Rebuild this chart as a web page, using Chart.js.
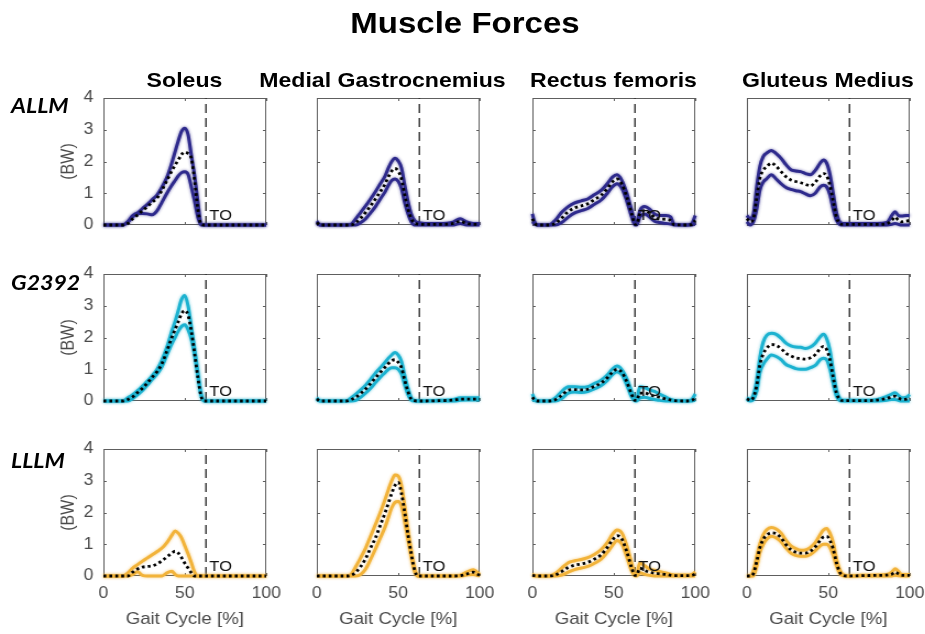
<!DOCTYPE html>
<html>
<head>
<meta charset="utf-8">
<title>Muscle Forces</title>
<script src="https://cdn.jsdelivr.net/npm/chart.js@4.4.1/dist/chart.umd.min.js"></script>
<style>
  html, body { margin: 0; padding: 0; background: #fff; overflow: hidden; }
  /* the source figure is slightly stretched sideways, so the whole sheet is too */
  #figure { position: absolute; left: 0; top: 0; width: 841px; height: 634px;
            transform: scaleX(1.1); transform-origin: 0 0;
            font-family: "Liberation Sans", Arial, sans-serif; }
  #figure canvas { position: absolute; }
  .label { position: absolute; white-space: nowrap; color: #000; }
  .main-title { font-size: 30px; font-weight: bold; line-height: 30px; text-align: center; width: 600px; }
  .col-title { font-size: 21px; font-weight: bold; line-height: 21px; text-align: center; width: 300px; }
  .row-label { font-family: Lato, "Open Sans", sans-serif; font-size: 21px; font-weight: bold;
               font-style: italic; line-height: 22px; }
</style>
</head>
<body>
<div id="figure"></div>
<script>
  // ---- data ----
  const models = ['ALLM', 'G2392', 'LLLM'];
  const muscles = ['Soleus', 'Medial Gastrocnemius', 'Rectus femoris', 'Gluteus Medius'];
  const toeOff = 63;            // % gait cycle
  const toeOffLabel = 'TO';
  const xTicks = [0, 50, 100];
  const yTicks = [0, 1, 2, 3, 4];

  // gait cycle samples (%) per muscle
  const soleusX  = [0, 12, 15, 18, 21, 24, 27, 30, 33, 36, 39, 42, 44, 46, 48, 50, 52, 54, 56, 58, 60, 62, 100];
  const gastrocX = [0, 2, 18, 21, 24, 27, 30, 33, 36, 39, 42, 44, 46, 48, 50, 52, 54, 56, 58, 60, 62, 66, 75, 84, 88, 92, 96, 100];
  const rectusX  = [0, 1, 3, 10, 14, 18, 22, 26, 30, 34, 38, 42, 46, 49, 52, 55, 58, 61, 63, 64, 66, 69, 72, 75, 78, 82, 85, 87, 95, 98, 100];
  const gluteusX = [0, 2, 4, 6, 8, 10, 12, 15, 18, 21, 24, 27, 30, 33, 36, 39, 42, 45, 47, 49, 51, 53, 55, 57, 59, 62, 70, 80, 86, 89, 91, 93, 95, 98, 100];

  // forces (BW): upper bound, mean, lower bound
  const allmSoleusUpper = [0, 0, 0.1, 0.25, 0.38, 0.52, 0.65, 0.8, 0.95, 1.2, 1.5, 1.95, 2.3, 2.65, 2.95, 3.05, 2.85, 2.2, 1.55, 0.75, 0.03, 0, 0];
  const allmSoleusMean  = [0, 0, 0.05, 0.2, 0.32, 0.45, 0.58, 0.72, 0.85, 1.1, 1.4, 1.7, 1.88, 2.05, 2.22, 2.3, 2.25, 2.1, 1.4, 0.5, 0.02, 0, 0];
  const allmSoleusLower = [0, 0, 0.1, 0.3, 0.36, 0.36, 0.35, 0.32, 0.45, 0.72, 1.0, 1.25, 1.4, 1.55, 1.65, 1.68, 1.6, 1.2, 0.75, 0.25, 0, 0, 0];
  const g2392SoleusUpper = [0, 0, 0.1, 0.2, 0.33, 0.47, 0.63, 0.8, 1.0, 1.3, 1.7, 2.2, 2.5, 2.85, 3.2, 3.32, 3.0, 2.35, 1.65, 0.9, 0.2, 0, 0];
  const g2392SoleusMean  = [0, 0, 0.05, 0.13, 0.27, 0.4, 0.57, 0.75, 0.93, 1.18, 1.58, 2.0, 2.25, 2.5, 2.75, 2.85, 2.7, 2.2, 1.5, 0.75, 0.15, 0, 0];
  const g2392SoleusLower = [0, 0, 0, 0.08, 0.2, 0.33, 0.5, 0.68, 0.85, 1.08, 1.45, 1.8, 2.0, 2.2, 2.35, 2.4, 2.25, 1.95, 1.45, 0.8, 0.2, 0, 0];
  const lllmSoleusUpper = [0, 0, 0.1, 0.25, 0.36, 0.47, 0.57, 0.67, 0.77, 0.88, 1.05, 1.28, 1.42, 1.35, 1.2, 0.95, 0.7, 0.42, 0.12, 0, 0, 0, 0];
  const lllmSoleusMean  = [0, 0, 0, 0.12, 0.22, 0.28, 0.3, 0.32, 0.38, 0.48, 0.6, 0.72, 0.78, 0.72, 0.58, 0.4, 0.25, 0.1, 0, 0, 0, 0, 0];
  const lllmSoleusLower = [0, 0, 0, 0.05, 0.13, 0.02, 0, 0, 0, 0, 0.1, 0.15, 0.05, 0, 0, 0, 0, 0, 0, 0, 0, 0, 0];

  const allmGastrocUpper = [0.12, 0, 0, 0.02, 0.2, 0.4, 0.6, 0.82, 1.05, 1.3, 1.55, 1.8, 2.0, 2.1, 2.02, 1.8, 1.25, 0.75, 0.35, 0.15, 0.08, 0.05, 0.05, 0.1, 0.2, 0.1, 0.05, 0.05];
  const allmGastrocMean  = [0.08, 0, 0, 0, 0.08, 0.22, 0.4, 0.6, 0.82, 1.05, 1.3, 1.52, 1.7, 1.78, 1.7, 1.45, 0.95, 0.5, 0.2, 0.06, 0.03, 0.02, 0.02, 0.05, 0.12, 0.05, 0.02, 0.02];
  const allmGastrocLower = [0.05, 0, 0, 0, 0, 0.08, 0.2, 0.38, 0.58, 0.82, 1.05, 1.25, 1.4, 1.45, 1.38, 1.15, 0.7, 0.35, 0.1, 0, 0, 0, 0, 0, 0.05, 0, 0, 0];
  const g2392GastrocUpper = [0.1, 0, 0, 0.1, 0.22, 0.35, 0.5, 0.68, 0.88, 1.05, 1.22, 1.35, 1.45, 1.53, 1.45, 1.25, 0.8, 0.4, 0.1, 0.02, 0, 0, 0.02, 0.05, 0.1, 0.1, 0.1, 0.1];
  const g2392GastrocMean  = [0.07, 0, 0, 0.04, 0.12, 0.24, 0.38, 0.55, 0.73, 0.9, 1.07, 1.18, 1.27, 1.3, 1.22, 1.05, 0.65, 0.3, 0.06, 0.01, 0, 0, 0.01, 0.03, 0.06, 0.06, 0.06, 0.06];
  const g2392GastrocLower = [0.05, 0, 0, 0, 0.02, 0.12, 0.25, 0.4, 0.58, 0.75, 0.9, 1.0, 1.05, 1.05, 1.0, 0.85, 0.5, 0.2, 0.03, 0, 0, 0, 0, 0, 0.02, 0.03, 0.03, 0.03];
  const lllmGastrocUpper = [0, 0, 0, 0.05, 0.3, 0.58, 0.88, 1.25, 1.62, 2.0, 2.42, 2.72, 3.0, 3.18, 3.15, 2.85, 2.2, 1.45, 0.8, 0.27, 0, 0, 0, 0, 0.02, 0.12, 0.2, 0.05];
  const lllmGastrocMean  = [0, 0, 0, 0.02, 0.12, 0.3, 0.55, 0.88, 1.2, 1.6, 2.0, 2.3, 2.6, 2.85, 2.95, 2.6, 2.0, 1.3, 0.7, 0.2, 0, 0, 0, 0, 0.01, 0.06, 0.12, 0.02];
  const lllmGastrocLower = [0, 0, 0, 0, 0, 0.05, 0.22, 0.52, 0.85, 1.2, 1.55, 1.85, 2.15, 2.32, 2.35, 2.2, 1.7, 1.15, 0.6, 0.15, 0, 0, 0, 0, 0, 0.03, 0.05, 0];

  const allmRectusUpper = [0.35, 0.15, 0, 0, 0.15, 0.4, 0.58, 0.7, 0.76, 0.82, 0.95, 1.08, 1.3, 1.5, 1.58, 1.4, 1.0, 0.45, 0.08, 0.05, 0.45, 0.58, 0.5, 0.35, 0.3, 0.3, 0.25, 0.02, 0, 0.05, 0.3];
  const allmRectusMean  = [0.2, 0.08, 0, 0, 0.05, 0.22, 0.42, 0.54, 0.6, 0.67, 0.8, 0.93, 1.15, 1.35, 1.45, 1.28, 0.88, 0.35, 0.03, 0.02, 0.35, 0.45, 0.38, 0.24, 0.19, 0.18, 0.14, 0.01, 0, 0.02, 0.15];
  const allmRectusLower = [0.1, 0.05, 0, 0, 0, 0.08, 0.25, 0.38, 0.45, 0.52, 0.65, 0.78, 1.0, 1.2, 1.3, 1.15, 0.75, 0.25, 0, 0, 0.25, 0.35, 0.25, 0.12, 0.08, 0.05, 0.03, 0, 0, 0, 0.05];
  const g2392RectusUpper = [0.22, 0.1, 0, 0, 0.1, 0.3, 0.45, 0.45, 0.43, 0.45, 0.55, 0.65, 0.82, 1.0, 1.1, 0.98, 0.7, 0.3, 0.05, 0.05, 0.45, 0.42, 0.35, 0.3, 0.22, 0.12, 0.05, 0.02, 0, 0.05, 0.22];
  const g2392RectusMean  = [0.12, 0.05, 0, 0, 0.04, 0.18, 0.34, 0.36, 0.35, 0.37, 0.46, 0.56, 0.73, 0.9, 1.0, 0.9, 0.6, 0.2, 0.02, 0.02, 0.25, 0.25, 0.2, 0.15, 0.12, 0.06, 0.03, 0.01, 0, 0.02, 0.1];
  const g2392RectusLower = [0.05, 0.02, 0, 0, 0, 0.08, 0.25, 0.28, 0.27, 0.3, 0.38, 0.48, 0.65, 0.82, 0.92, 0.82, 0.5, 0.12, 0, 0, 0.1, 0.12, 0.08, 0.05, 0.02, 0, 0, 0, 0, 0, 0.03];
  const lllmRectusUpper = [0.05, 0.03, 0, 0, 0.08, 0.25, 0.42, 0.48, 0.52, 0.58, 0.68, 0.82, 1.05, 1.3, 1.45, 1.35, 0.95, 0.4, 0.05, 0.05, 0.42, 0.32, 0.22, 0.18, 0.14, 0.1, 0.05, 0.03, 0.03, 0.05, 0.13];
  const lllmRectusMean  = [0.02, 0.01, 0, 0, 0.03, 0.14, 0.27, 0.34, 0.38, 0.43, 0.53, 0.66, 0.9, 1.12, 1.27, 1.16, 0.76, 0.25, 0.02, 0.02, 0.25, 0.17, 0.12, 0.09, 0.07, 0.05, 0.02, 0.01, 0.01, 0.02, 0.06];
  const lllmRectusLower = [0, 0, 0, 0, 0, 0.03, 0.12, 0.2, 0.25, 0.3, 0.4, 0.52, 0.75, 0.95, 1.12, 1.0, 0.6, 0.15, 0, 0, 0.1, 0.05, 0.02, 0, 0, 0, 0, 0, 0, 0, 0];

  const allmGluteusUpper = [0.3, 0.2, 0.35, 1.2, 1.85, 2.15, 2.26, 2.35, 2.25, 2.1, 1.9, 1.74, 1.7, 1.68, 1.62, 1.58, 1.72, 1.95, 2.05, 1.95, 1.6, 1.0, 0.4, 0.1, 0.05, 0.05, 0.05, 0.05, 0.08, 0.3, 0.42, 0.3, 0.28, 0.3, 0.3];
  const allmGluteusMean  = [0.2, 0.1, 0.2, 0.85, 1.48, 1.72, 1.83, 1.95, 1.85, 1.68, 1.52, 1.42, 1.37, 1.33, 1.28, 1.23, 1.35, 1.55, 1.62, 1.55, 1.25, 0.75, 0.25, 0.05, 0.02, 0.02, 0.02, 0.02, 0.04, 0.15, 0.25, 0.15, 0.1, 0.12, 0.15];
  const allmGluteusLower = [0.1, 0, 0.1, 0.5, 1.1, 1.35, 1.45, 1.58, 1.45, 1.3, 1.18, 1.12, 1.08, 1.05, 0.98, 0.92, 1.0, 1.2, 1.25, 1.2, 0.95, 0.5, 0.15, 0.02, 0, 0, 0, 0, 0, 0.02, 0.05, 0.02, 0, 0, 0];
  const g2392GluteusUpper = [0.1, 0.05, 0.2, 0.65, 1.38, 1.85, 2.06, 2.13, 2.1, 1.98, 1.82, 1.74, 1.7, 1.69, 1.65, 1.7, 1.82, 2.02, 2.1, 1.96, 1.6, 0.95, 0.35, 0.08, 0.02, 0.02, 0.02, 0.05, 0.15, 0.22, 0.26, 0.18, 0.1, 0.12, 0.2];
  const g2392GluteusMean  = [0.07, 0.02, 0.12, 0.48, 1.15, 1.48, 1.65, 1.78, 1.75, 1.65, 1.5, 1.42, 1.36, 1.34, 1.32, 1.36, 1.46, 1.65, 1.72, 1.62, 1.3, 0.75, 0.25, 0.05, 0.01, 0.01, 0.01, 0.03, 0.08, 0.13, 0.15, 0.1, 0.05, 0.06, 0.1];
  const g2392GluteusLower = [0.05, 0, 0.05, 0.3, 0.9, 1.15, 1.3, 1.45, 1.4, 1.3, 1.15, 1.08, 1.02, 1.0, 1.0, 1.05, 1.12, 1.3, 1.35, 1.3, 1.0, 0.55, 0.15, 0.02, 0, 0, 0, 0, 0.02, 0.05, 0.05, 0.02, 0, 0, 0];
  const lllmGluteusUpper = [0, 0, 0.18, 0.6, 1.02, 1.3, 1.45, 1.53, 1.48, 1.35, 1.12, 0.95, 0.86, 0.81, 0.82, 0.9, 1.05, 1.3, 1.45, 1.5, 1.35, 1.05, 0.55, 0.2, 0.05, 0, 0.02, 0.03, 0.05, 0.12, 0.23, 0.15, 0.05, 0.05, 0.05];
  const lllmGluteusMean  = [0, 0, 0.08, 0.45, 0.9, 1.15, 1.28, 1.36, 1.33, 1.2, 0.99, 0.83, 0.75, 0.72, 0.72, 0.78, 0.92, 1.12, 1.23, 1.25, 1.12, 0.85, 0.42, 0.12, 0.02, 0, 0.01, 0.02, 0.03, 0.06, 0.12, 0.07, 0.02, 0.02, 0.02];
  const lllmGluteusLower = [0, 0, 0, 0.3, 0.75, 1.0, 1.15, 1.25, 1.2, 1.08, 0.88, 0.72, 0.65, 0.62, 0.62, 0.68, 0.8, 0.95, 1.0, 1.0, 0.9, 0.65, 0.32, 0.08, 0.01, 0, 0, 0, 0, 0, 0.02, 0.01, 0, 0, 0];

  // grid lookup: [model][muscle]
  const panelX = [soleusX, gastrocX, rectusX, gluteusX];
  const panelUpper = [
    [allmSoleusUpper, allmGastrocUpper, allmRectusUpper, allmGluteusUpper],
    [g2392SoleusUpper, g2392GastrocUpper, g2392RectusUpper, g2392GluteusUpper],
    [lllmSoleusUpper, lllmGastrocUpper, lllmRectusUpper, lllmGluteusUpper]
  ];
  const panelMean = [
    [allmSoleusMean, allmGastrocMean, allmRectusMean, allmGluteusMean],
    [g2392SoleusMean, g2392GastrocMean, g2392RectusMean, g2392GluteusMean],
    [lllmSoleusMean, lllmGastrocMean, lllmRectusMean, lllmGluteusMean]
  ];
  const panelLower = [
    [allmSoleusLower, allmGastrocLower, allmRectusLower, allmGluteusLower],
    [g2392SoleusLower, g2392GastrocLower, g2392RectusLower, g2392GluteusLower],
    [lllmSoleusLower, lllmGastrocLower, lllmRectusLower, lllmGluteusLower]
  ];

  // ---- layout & style ----
  const STRETCH = 1.1;
  const modelColors = ['#2e2a8c', '#1cb2d0', '#f2b33a'];
  const plotLeftPage = [103, 317, 532, 747];   // page px, before stretch
  const plotTop = [98, 274, 449];
  const PLOT_W = 148, PLOT_H = 127;
  const Y_AXIS_W = 55, X_AXIS_H = 60, PAD_TOP = 12, PAD_RIGHT = 18;
  const colTitleCenter = [184.5, 382.5, 613.5, 828];
  const rowLabelCenter = [106, 283, 461];
  const TICK_LEN = 3;
  const fontFamily = '"Liberation Sans", Arial, sans-serif';

  Chart.defaults.font.family = fontFamily;

  const fig = document.getElementById('figure');

  function addLabel(text, cls, left, top) {
    const el = document.createElement('div');
    el.className = 'label ' + cls;
    el.textContent = text;
    el.style.left = left + 'px';
    el.style.top = top + 'px';
    fig.appendChild(el);
  }

  addLabel('Muscle Forces', 'main-title', 465 / STRETCH - 300, 8);
  muscles.forEach((m, c) => addLabel(m, 'col-title', colTitleCenter[c] / STRETCH - 150, 69));
  models.forEach((m, r) => addLabel(m, 'row-label', 11 / STRETCH, rowLabelCenter[r] - 11.6));

  // box round the axes with ticks pointing inwards (drawn under the curves)
  const axesBox = {
    id: 'axesBox',
    beforeDatasetsDraw(chart) {
      const {ctx, chartArea: a} = chart;
      const sx = chart.scales.x, sy = chart.scales.y;
      ctx.save();
      ctx.strokeStyle = '#5e5e5e';
      ctx.lineWidth = 1;
      ctx.beginPath();
      ctx.rect(Math.round(a.left) + 0.5, Math.round(a.top) + 0.5, Math.round(a.width) - 1, Math.round(a.height) - 1);
      sx.ticks.forEach(t => {
        const px = Math.round(sx.getPixelForValue(t.value)) + 0.5;
        ctx.moveTo(px, a.bottom); ctx.lineTo(px, a.bottom - TICK_LEN);
        ctx.moveTo(px, a.top); ctx.lineTo(px, a.top + TICK_LEN);
      });
      sy.ticks.forEach(t => {
        const py = Math.round(sy.getPixelForValue(t.value)) + 0.5;
        ctx.moveTo(a.left, py); ctx.lineTo(a.left + TICK_LEN, py);
        ctx.moveTo(a.right, py); ctx.lineTo(a.right - TICK_LEN, py);
      });
      ctx.stroke();
      ctx.restore();
    }
  };

  // soft halo on the coloured bounds
  const glow = {
    id: 'glow',
    beforeDatasetDraw(chart, args) {
      const ds = chart.data.datasets[args.index];
      if (!ds.glowColor) return;
      chart.ctx.save();
      chart.ctx.shadowColor = ds.glowColor;
      chart.ctx.shadowBlur = 3;
    },
    afterDatasetDraw(chart, args) {
      if (chart.data.datasets[args.index].glowColor) chart.ctx.restore();
    }
  };

  // "TO" text next to the toe-off line
  const toeOffText = {
    id: 'toeOffText',
    afterDatasetsDraw(chart) {
      const {ctx} = chart;
      const px = chart.scales.x.getPixelForValue(toeOff);
      const py = chart.scales.y.getPixelForValue(0);
      ctx.save();
      ctx.fillStyle = '#111';
      ctx.font = '15px ' + fontFamily;
      ctx.textBaseline = 'alphabetic';
      ctx.fillText(toeOffLabel, px + 3, py - 5);
      ctx.restore();
    }
  };

  function buildPanel(r, c) {
    const canvas = document.createElement('canvas');
    canvas.width = Y_AXIS_W + PLOT_W + PAD_RIGHT;
    canvas.height = PAD_TOP + PLOT_H + X_AXIS_H;
    canvas.style.left = (plotLeftPage[c] / STRETCH - Y_AXIS_W) + 'px';
    canvas.style.top = (plotTop[r] - PAD_TOP) + 'px';
    fig.appendChild(canvas);

    const xs = panelX[c];
    const pts = ys => xs.map((x, i) => ({x: x, y: ys[i]}));
    const colour = modelColors[r];
    const bottomRow = r === models.length - 1;
    const firstCol = c === 0;

    new Chart(canvas, {
      type: 'line',
      data: {
        datasets: [
          { label: 'Mean', data: pts(panelMean[r][c]), borderColor: '#000', borderWidth: 2.8,
            borderDash: [2.6, 2.8], order: 0, clip: 6 },
          { label: 'Upper', data: pts(panelUpper[r][c]), borderColor: colour, borderWidth: 3,
            glowColor: colour + 'aa', order: 1, clip: 6 },
          { label: 'Lower', data: pts(panelLower[r][c]), borderColor: colour, borderWidth: 3,
            glowColor: colour + 'aa', order: 2, clip: 6 },
          { label: 'Toe-off', data: [{x: toeOff, y: yTicks[0]}, {x: toeOff, y: yTicks[yTicks.length - 1]}],
            borderColor: '#333', borderWidth: 1.4, borderDash: [9, 5], order: 3,
            tension: 0, cubicInterpolationMode: 'default' }
        ]
      },
      options: {
        responsive: false,
        animation: false,
        devicePixelRatio: 1,
        layout: { padding: { left: 0, right: PAD_RIGHT, top: PAD_TOP, bottom: 0 } },
        plugins: { legend: { display: false }, tooltip: { enabled: false } },
        elements: {
          point: { radius: 0 },
          line: { cubicInterpolationMode: 'monotone', borderCapStyle: 'butt', borderJoinStyle: 'round' }
        },
        scales: {
          x: {
            type: 'linear', min: xTicks[0], max: xTicks[xTicks.length - 1],
            afterFit: s => { s.height = X_AXIS_H; s.paddingLeft = 0; s.paddingRight = 0; },
            afterBuildTicks: s => { s.ticks = xTicks.map(v => ({value: v})); },
            border: { display: false },
            grid: { display: false, drawTicks: false },
            ticks: { display: bottomRow, padding: 8, color: '#4a4a4a', font: { size: 16 } },
            title: { display: bottomRow, text: 'Gait Cycle [%]', color: '#4a4a4a', font: { size: 17 },
                     padding: { top: 0, bottom: 6 } }
          },
          y: {
            min: yTicks[0], max: yTicks[yTicks.length - 1],
            afterFit: s => { s.width = Y_AXIS_W; s.paddingTop = 0; s.paddingBottom = 0; },
            afterBuildTicks: s => { s.ticks = yTicks.map(v => ({value: v})); },
            border: { display: false },
            grid: { display: false, drawTicks: false },
            ticks: { display: firstCol, padding: 9, color: '#4a4a4a', font: { size: 16 } },
            title: { display: firstCol, text: '(BW)', color: '#4a4a4a', font: { size: 16 },
                     padding: { top: 14, bottom: 0 } }
          }
        }
      },
      plugins: [axesBox, glow, toeOffText]
    });
  }

  models.forEach((m, r) => muscles.forEach((mu, c) => buildPanel(r, c)));
</script>
</body>
</html>
